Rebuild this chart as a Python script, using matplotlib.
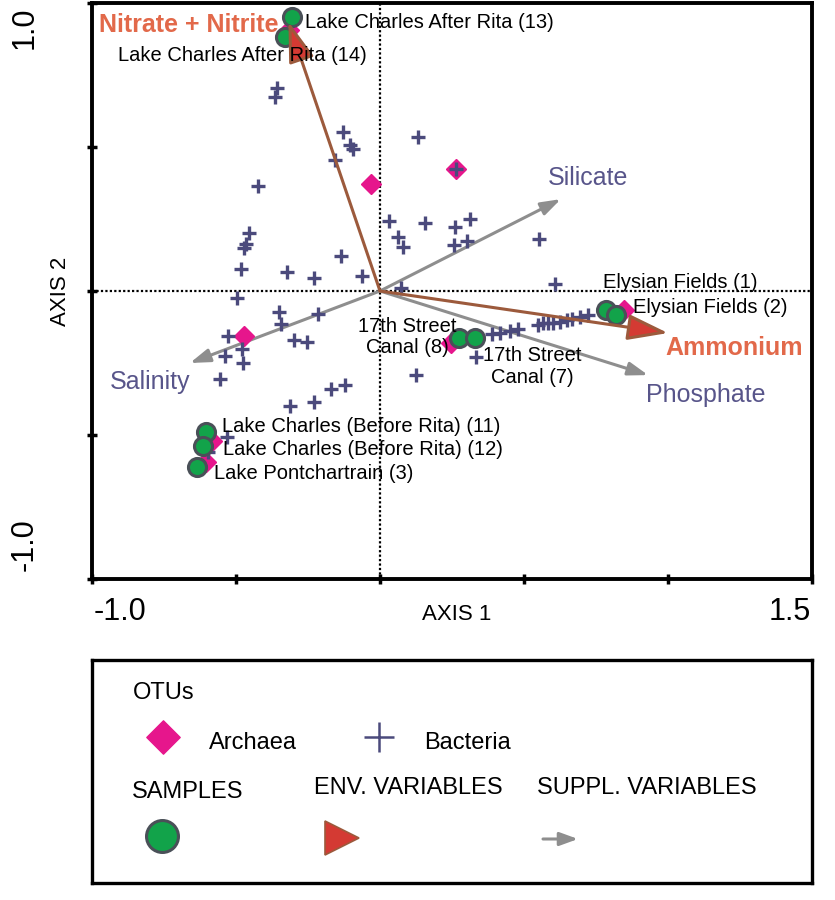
"""
CCA-style ordination biplot: OTUs, samples and environmental vectors,
with a hand-built legend panel underneath.
"""
import matplotlib
matplotlib.use("Agg")
import matplotlib.pyplot as plt
from matplotlib.patches import FancyArrowPatch
from matplotlib.path import Path

plt.rcParams["font.family"] = ["Liberation Sans", "DejaVu Sans"]

# ---- data (axis 1, axis 2) ----
bacteria_x = [-0.358, -0.365, -0.128, -0.104, -0.094, -0.156, -0.424, -0.455, -0.465, -0.472,
              -0.483, -0.323, -0.229, -0.135, -0.063, 0.031, 0.063, 0.080, 0.132, 0.073,
              -0.497, 0.264, 0.156, 0.260, 0.313, 0.257, 0.302, 0.552, 0.608, -0.351,
              -0.344, -0.215, -0.528, -0.479, -0.538, -0.476, -0.556, -0.299, -0.253, -0.313,
              -0.229, -0.170, -0.122, -0.531, 0.125, 0.333, 0.389, 0.417, 0.451, 0.479,
              0.549, 0.566, 0.583, 0.601, 0.625, 0.649, 0.667, 0.694, 0.722, -0.597]
bacteria_y = [0.705, 0.674, 0.552, 0.507, 0.493, 0.455, 0.365, 0.201, 0.163, 0.149,
              0.076, 0.066, 0.045, 0.122, 0.052, 0.243, 0.188, 0.153, 0.535, 0.010,
              -0.024, 0.424, 0.236, 0.222, 0.250, 0.160, 0.174, 0.181, 0.024, -0.073,
              -0.115, -0.080, -0.156, -0.201, -0.226, -0.250, -0.306, -0.170, -0.177, -0.399,
              -0.385, -0.340, -0.326, -0.507, -0.292, -0.229, -0.149, -0.146, -0.139, -0.132,
              -0.118, -0.111, -0.111, -0.111, -0.108, -0.101, -0.097, -0.090, -0.083, -0.559]

archaea_x = [-0.031, 0.264, -0.472, 0.847, 0.247, -0.583, -0.604, -0.316]
archaea_y = [0.372, 0.424, -0.156, -0.066, -0.181, -0.521, -0.594, 0.906]

sample_names = ["Lake Charles After Rita (13)", "Lake Charles After Rita (14)",
                "Elysian Fields (1)", "Elysian Fields (2)",
                "17th Street\nCanal (8)", "17th Street\nCanal (7)",
                "Lake Charles (Before Rita) (11)", "Lake Charles (Before Rita) (12)",
                "Lake Pontchartrain (3)"]
sample_x = [-0.306, -0.330, 0.785, 0.819, 0.274, 0.330, -0.604, -0.615, -0.635]
sample_y = [0.951, 0.882, -0.066, -0.083, -0.163, -0.163, -0.490, -0.538, -0.611]

env_names = ["Nitrate + Nitrite", "Ammonium"]
env_x = [-0.318, 1.000]
env_y = [0.935, -0.146]

suppl_names = ["Silicate", "Phosphate", "Salinity"]
suppl_x = [0.628, 0.931, -0.660]
suppl_y = [0.319, -0.292, -0.250]

# label anchors (data coords) and alignment
sample_lab = [(-0.260, 0.934, "left"), (-0.910, 0.816, "left"),
              (0.774, 0.028, "left"), (0.878, -0.056, "left"),
              (0.094, -0.160, "center"), (0.528, -0.262, "center"),
              (-0.549, -0.469, "left"), (-0.545, -0.552, "left"),
              (-0.576, -0.632, "left")]
env_lab = [(-0.354, 0.924, "right"), (0.990, -0.198, "left")]
suppl_lab = [(0.583, 0.392), (0.924, -0.361), (-0.9375, -0.316)]

BACT = "#4b4a7c"
ARCH = "#e6168c"
GREEN = "#12a34a"
EDGE = "#4a5058"
BROWN = "#9c5a3c"
RED = "#d43a33"
ORANGE = "#e2694a"
GREY = "#8e8e8e"
PURPLE = "#58558a"

fig = plt.figure(figsize=(8.35, 9.0), dpi=100)
ax = fig.add_axes([92 / 835, 1 - 579 / 900, 720 / 835, 576 / 900])
ax.set_xlim(-1.0, 1.5)
ax.set_ylim(-1.0, 1.0)

ax.axvline(0, color="black", lw=1.6, ls=(0, (1, 1)), zorder=1)
ax.axhline(0, color="black", lw=1.6, ls=(0, (1, 1)), zorder=1)

# supplementary variables
for x, y in zip(suppl_x, suppl_y):
    ax.add_patch(FancyArrowPatch((0, 0), (x, y), arrowstyle="-|>,head_length=12,head_width=4",
                                 mutation_scale=1, color=GREY, lw=2.2, shrinkA=0, shrinkB=0,
                                 zorder=2))
for name, (lx, ly) in zip(suppl_names, suppl_lab):
    ax.text(lx, ly, name, color=PURPLE, fontsize=18, ha="left", va="center", zorder=8)

ax.plot(archaea_x, archaea_y, ls="none", marker="D", ms=10.5, color=ARCH, zorder=3)
ax.plot(bacteria_x, bacteria_y, ls="none", marker="+", ms=10, mew=2.4, color=BACT, zorder=4)
ax.plot(sample_x, sample_y, ls="none", marker="o", ms=13, mfc=GREEN, mec=EDGE, mew=2.2,
        zorder=5)

for name, (lx, ly, ha) in zip(sample_names, sample_lab):
    ax.text(lx, ly, name, fontsize=14.5, ha=ha, va="center", linespacing=1.15, zorder=8)

# environmental variables
for x, y in zip(env_x, env_y):
    ax.add_patch(FancyArrowPatch((0, 0), (x, y), arrowstyle="-|>,head_length=25,head_width=8",
                                 mutation_scale=1, facecolor=RED, edgecolor=BROWN, lw=2.2,
                                 shrinkA=0, shrinkB=0, zorder=6))
for name, (lx, ly, ha) in zip(env_names, env_lab):
    ax.text(lx, ly, name, color=ORANGE, fontsize=18, fontweight="bold", ha=ha, va="center",
            zorder=8)

ax.set_xticks([-1.0, -0.5, 0, 0.5, 1.0, 1.5])
ax.set_yticks([-1.0, -0.5, 0, 0.5, 1.0])
ax.tick_params(direction="inout", length=7, width=2.5, labelbottom=False, labelleft=False)
for s in ax.spines.values():
    s.set_linewidth(2.8)

# axis labels placed like the original
def ftext(px, py, s, **kw):
    fig.text(px / 835, 1 - py / 900, s, ha="center", va="center", **kw)

ftext(25, 28, "1.0", fontsize=22, rotation=90)
ftext(25, 545, "-1.0", fontsize=22, rotation=90)
ftext(60, 291, "AXIS 2", fontsize=16, rotation=90)
ftext(120, 612, "-1.0", fontsize=22)
ftext(790, 612, "1.5", fontsize=22)
ftext(457, 615, "AXIS 1", fontsize=16)

# ---- legend panel ----
lg = fig.add_axes([92 / 835, 1 - 883 / 900, 720 / 835, 223 / 900])
lg.set_xlim(0, 720)
lg.set_ylim(223, 0)
lg.set_xticks([])
lg.set_yticks([])
for s in lg.spines.values():
    s.set_linewidth(2.4)

diamond = Path([(0, 1), (1, 0), (0, -1), (-1, 0), (0, 1)],
               [Path.MOVETO, Path.LINETO, Path.LINETO, Path.LINETO, Path.CLOSEPOLY])
lg.plot([71], [77], marker=diamond, ms=24, color=ARCH, ls="none")
lg.plot([287], [77], marker="+", ms=22, mew=1.8, color=BACT, ls="none")
lg.plot([70], [176], marker="o", ms=23, mfc=GREEN, mec=EDGE, mew=2.2, ls="none")
lg.plot([250], [178], marker=">", ms=24, mfc=RED, mec=BROWN, mew=1.2, ls="none")
lg.add_patch(FancyArrowPatch((451, 179), (486, 179), arrowstyle="-|>,head_length=11,head_width=4",
                             mutation_scale=1, color=GREY, lw=2.2, shrinkA=0, shrinkB=0))

lkw = dict(fontsize=17, va="center", ha="left")
lg.text(41, 33, "OTUs", **lkw)
lg.text(117, 83, "Archaea", **lkw)
lg.text(332, 83, "Bacteria", **lkw)
lg.text(40, 132, "SAMPLES", **lkw)
lg.text(222, 128, "ENV. VARIABLES", **lkw)
lg.text(445, 128, "SUPPL. VARIABLES", **lkw)

fig.savefig("out.png", dpi=100)
